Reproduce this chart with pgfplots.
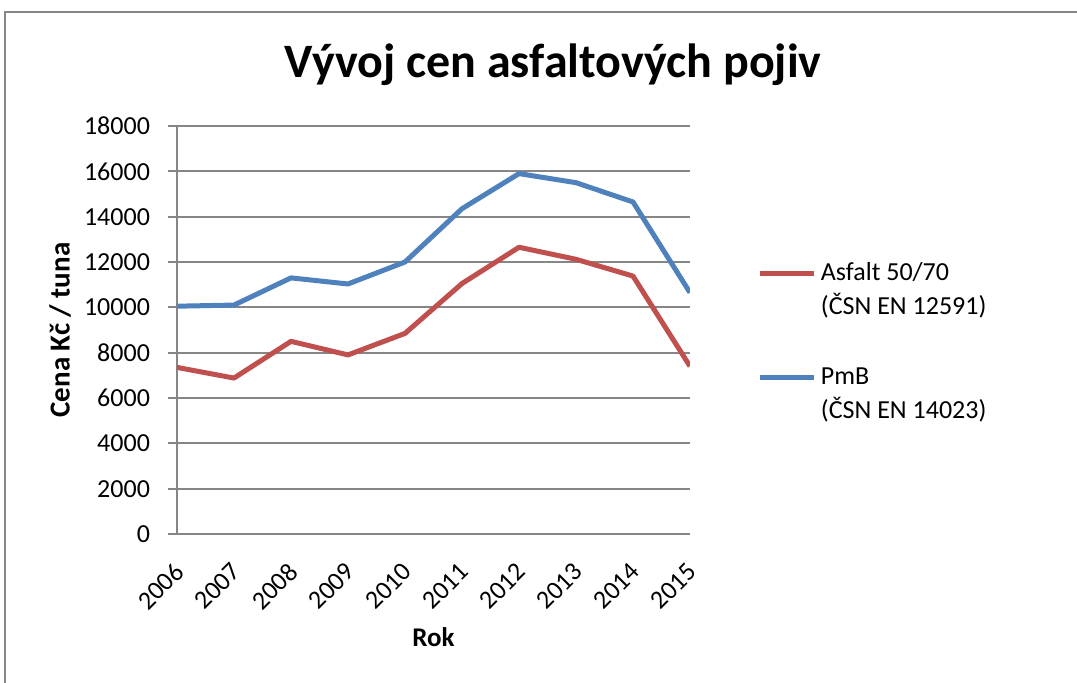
\documentclass[border=0pt]{standalone}
\usepackage{fontspec}
\setmainfont{Carlito}
\usepackage{pgfplots}
\pgfplotsset{compat=1.18}

\definecolor{asfalt}{HTML}{C0504D}
\definecolor{pmb}{HTML}{4F81BD}
\definecolor{gridgray}{HTML}{868686}

\pgfplotstableread{
rok asfalt pmb
2006 7350 10050
2007 6880 10100
2008 8500 11300
2009 7900 11030
2010 8850 12000
2011 11050 14350
2012 12650 15900
2013 12120 15500
2014 11380 14650
2015 7400 10650
}\ceny

\begin{document}
\begin{tikzpicture}
% 1 px of the reference = 0.5pt
\useasboundingbox (0,0) rectangle (538.5pt,341pt);
\draw[gridgray, line width=1.2pt] (2.5pt,-5pt) -- (2.5pt,335pt) -- (545pt,335pt);
\begin{axis}[
    at={(88.5pt,74pt)}, anchor=south west,
    scale only axis,
    width=256.5pt, height=204pt,
    xmin=2006, xmax=2015,
    ymin=0, ymax=18000,
    xtick=data,
    ytick={0,2000,...,18000},
    scaled y ticks=false,
    /pgf/number format/1000 sep={},
    /pgf/number format/assume math mode=true,
    axis x line*=bottom, axis y line*=left,
    axis line style={gridgray, line width=1.2pt, -},
    ymajorgrids,
    major grid style={gridgray, line width=1pt},
    ytick align=outside,
    major tick length=4.5pt,
    major y tick style={gridgray, line width=1pt},
    major x tick style={draw=none},
    tick label style={font=\fontsize{13}{15}\selectfont, black},
    yticklabel style={xshift=-5.5pt},
    xticklabel style={xshift=3.6pt, yshift=-14.3pt, rotate=45, anchor=east},
    title={Vývoj cen asfaltových pojiv},
    title style={font=\fontsize{24}{28}\selectfont\bfseries, at={(axis description cs:0.733,1.122)}, anchor=center},
    xlabel={Rok},
    xlabel style={font=\fontsize{13.5}{15}\selectfont\bfseries, at={(axis description cs:0.5,-0.252)}, anchor=center},
    ylabel={Cena Kč / tuna},
    ylabel style={font=\fontsize{14.5}{16}\selectfont\bfseries, at={(axis description cs:-0.228,0.5)}, anchor=center, rotate=0},
    legend style={at={(axis description cs:1.12,0.685)}, anchor=north west, draw=none, fill=none,
                  font=\fontsize{13}{17}\selectfont, cells={align=left, anchor=west}, row sep=21pt},
    legend image code/.code={
        \path[draw=none] (0pt,-8.5pt) -- (27pt,-8.5pt);
        \draw[#1, line width=2.5pt] (0pt,8.5pt) -- (27pt,8.5pt);},
]
\addplot[asfalt, line width=2.5pt, line join=round] table[x=rok, y=asfalt] {\ceny};
\addplot[pmb, line width=2.5pt, line join=round] table[x=rok, y=pmb] {\ceny};
\legend{Asfalt 50/70\\(ČSN EN 12591), PmB\\(ČSN EN 14023)}
\end{axis}
\end{tikzpicture}
\end{document}
